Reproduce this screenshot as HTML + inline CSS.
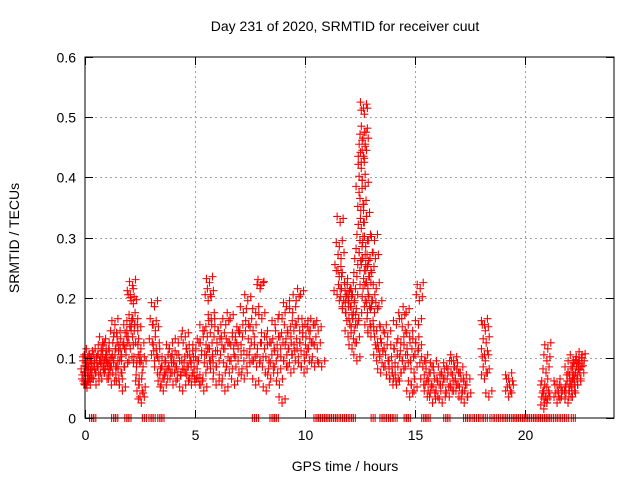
<!DOCTYPE html>
<html><head><meta charset="utf-8"><style>
body{margin:0;background:#fff;}
svg{display:block;font-family:"Liberation Sans",sans-serif;}
</style></head><body>
<svg id="chart" width="640" height="480">
<text x="345" y="31" text-anchor="middle" font-size="14">Day 231 of 2020, SRMTID for receiver cuut</text>
<text x="345" y="471" text-anchor="middle" font-size="14">GPS time / hours</text>
<text transform="translate(19,238) rotate(-90)" text-anchor="middle" font-size="14">SRMTID / TECUs</text>
<g id="grid"></g><g id="marks"></g>
<rect x="85" y="57" width="529" height="361" fill="none" stroke="#000" stroke-width="1"/>
<g id="axes"></g>
</svg>
<script>
const xTicks=[0,5,10,15,20];
const yTicks=[0,0.1,0.2,0.3,0.4,0.5,0.6];
const yTickLabels=["0","0.1","0.2","0.3","0.4","0.5","0.6"];
const groupHours=[0.0,0.05,0.1,0.15,0.2,0.3,0.4,0.5,0.6,0.7,0.8,0.9,1.0,1.1,1.2,1.3,1.4,1.5,1.6,1.7,1.8,1.9,2.0,2.1,2.2,2.3,2.4,2.5,2.6,3.1,3.2,3.3,3.5,3.6,3.8,4.0,4.2,4.4,4.6,4.8,5.0,5.2,5.4,5.6,5.7,5.8,6.0,6.2,6.4,6.6,6.8,7.0,7.2,7.4,7.6,7.8,8.0,8.2,8.4,8.6,8.8,9.0,9.2,9.4,9.6,9.8,10.0,10.2,10.4,10.6,10.8,11.5,11.6,11.7,11.8,12.0,12.1,12.2,12.3,12.4,12.5,12.6,12.7,12.8,12.9,13.0,13.2,13.3,13.4,13.6,13.8,14.0,14.2,14.4,14.6,14.8,15.0,15.2,15.4,15.6,15.8,16.0,16.2,16.4,16.6,16.8,17.0,17.2,17.4,18.2,18.4,19.3,20.9,21.0,21.5,21.7,22.0,22.1,22.2,22.3,22.4,22.5,22.6];
const groupValues=[[0.08,0.06,0.1],[0.07,0.09,0.055],[0.06,0.1,0.085],[0.075,0.065],[0.09,0.11,0.06],[0.1,0.08],[0.07,0.09,0.1],[0.08,0.06],[0.09,0.11],[0.1,0.08,0.12],[0.07,0.13,0.09],[0.1,0.085,0.11],[0.12,0.07,0.095],[0.08,0.1],[0.09,0.06,0.11],[0.08,0.14],[0.16,0.12,0.09],[0.14,0.1,0.07],[0.06,0.12,0.08],[0.11,0.05],[0.13,0.09],[0.12,0.15],[0.14,0.1,0.16],[0.21,0.2,0.17,0.12],[0.225,0.195,0.15],[0.16,0.13,0.09],[0.1,0.15,0.06],[0.07,0.04,0.12],[0.03,0.05,0.09,0.1],[0.13,0.16],[0.19,0.15,0.12,0.1],[0.11,0.08],[0.06,0.09,0.07],[0.05,0.08,0.1],[0.07,0.09,0.12],[0.08,0.06,0.1,0.11],[0.09,0.07,0.13],[0.075,0.1,0.05],[0.08,0.12,0.09,0.14],[0.07,0.1,0.06,0.11],[0.09,0.065,0.12,0.08],[0.1,0.06,0.13],[0.07,0.05,0.11,0.15],[0.09,0.2,0.12,0.14],[0.23,0.21,0.17,0.1],[0.16,0.11,0.08],[0.09,0.13,0.15,0.06],[0.11,0.14,0.07],[0.12,0.16,0.09,0.05],[0.13,0.17,0.1,0.08],[0.12,0.06,0.14],[0.1,0.08,0.15,0.12],[0.14,0.18,0.07],[0.11,0.2,0.16,0.09],[0.13,0.1,0.15],[0.18,0.09,0.12,0.06],[0.22,0.225,0.17,0.1],[0.14,0.08,0.05,0.12],[0.1,0.13,0.07],[0.09,0.12,0.16],[0.11,0.14,0.06,0.08],[0.17,0.13,0.1,0.03],[0.19,0.15,0.12,0.09],[0.14,0.11,0.18,0.08],[0.16,0.2,0.12,0.1],[0.13,0.21,0.09,0.15],[0.11,0.16,0.14,0.08],[0.12,0.1,0.15],[0.13,0.16,0.09],[0.12,0.15],[0.09],[0.21,0.25],[0.29,0.33,0.27,0.24],[0.22,0.19],[0.2,0.23,0.18],[0.21,0.17,0.16,0.14,0.2],[0.22,0.19,0.12],[0.21,0.18,0.15],[0.2,0.16,0.13],[0.24,0.26,0.17,0.1],[0.28,0.3,0.35,0.38],[0.42,0.45,0.47,0.43,0.4,0.36,0.32,0.27,0.22],[0.44,0.48,0.46,0.52,0.51,0.39,0.33,0.25,0.2],[0.29,0.34,0.3,0.26,0.23,0.18],[0.22,0.24,0.19,0.15],[0.27,0.25,0.2,0.16,0.14],[0.3,0.27,0.22,0.18],[0.15,0.13,0.12,0.1],[0.19,0.11,0.08],[0.15,0.12,0.09],[0.14,0.1,0.07],[0.08,0.06,0.12,0.09],[0.16,0.11,0.07,0.06],[0.13,0.17,0.1,0.08],[0.15,0.18,0.12,0.09],[0.14,0.1,0.06,0.04],[0.08,0.11,0.13,0.05],[0.16,0.2,0.22,0.12],[0.09,0.06,0.1],[0.07,0.05,0.08,0.04],[0.06,0.03,0.09],[0.05,0.07,0.04],[0.06,0.08,0.03],[0.07,0.05,0.09],[0.04,0.06,0.08],[0.05,0.09,0.07,0.1],[0.06,0.04,0.08],[0.05,0.07,0.03],[0.06,0.04],[0.16,0.15,0.13,0.11,0.1,0.08,0.07],[0.04],[0.07,0.06,0.05,0.04],[0.02,0.03,0.04,0.05,0.06],[0.08,0.1,0.12,0.04,0.03],[0.06,0.05,0.04,0.03],[0.04,0.05],[0.03,0.05,0.07,0.08,0.04],[0.06,0.09,0.05],[0.07,0.1,0.06,0.04],[0.05,0.08,0.09],[0.07,0.06,0.095],[0.1,0.085,0.07],[0.09,0.105]];
const zeroHours=[0.3,0.4,1.3,1.4,1.9,2.0,2.7,3.0,3.1,3.4,3.5,7.7,7.8,8.5,8.6,8.7,10.5,10.6,10.7,10.8,10.9,11.0,11.1,11.2,11.3,11.4,11.5,11.7,11.8,11.9,12.1,12.2,13.1,13.5,13.6,13.8,13.9,14.1,14.6,14.7,15.4,15.5,15.6,16.4,16.5,17.3,17.4,17.6,17.8,18.0,18.2,18.5,18.7,18.9,19.1,19.2,19.4,19.5,19.6,19.7,19.8,19.9,20.0,20.1,20.2,20.3,20.4,20.5,20.6,20.7,20.8,20.9,21.0,21.1,21.2,21.4,21.5,21.7,21.9,22.2];
const NS="http://www.w3.org/2000/svg";
const X0=85,X1=614,Y0=418,Y1=57,XMAX=24.05,YMAX=0.6;
function xs(h){return X0+h/XMAX*(X1-X0);}
function ys(v){return Y0-v/YMAX*(Y0-Y1);}
const grid=document.getElementById('grid'),axes=document.getElementById('axes'),marks=document.getElementById('marks');
function mk(tag,attrs,parent){const e=document.createElementNS(NS,tag);for(const k in attrs)e.setAttribute(k,attrs[k]);parent.appendChild(e);return e;}
yTicks.forEach((t,i)=>{
  const y=Math.round(ys(t))+0.5;
  if(i>0&&i<yTicks.length-1){const g=mk('line',{x1:X0,x2:X1,y1:y,y2:y,stroke:'#a0a0a0','stroke-dasharray':'2,3'},grid);
  
  }
  const a=mk('path',{d:`M${X0} ${y}h8M${X1} ${y}h-8`,stroke:'#000'},axes);
  
  
  const l=mk('text',{x:X0-9,y:y+5,'text-anchor':'end','font-size':14},axes);l.textContent=yTickLabels[i];
  
  
});
xTicks.forEach(t=>{
  const x=Math.round(xs(t))+0.5;
  if(t>0){const g=mk('line',{x1:x,x2:x,y1:Y0,y2:Y1,stroke:'#a0a0a0','stroke-dasharray':'2,3'},grid);
  
  }
  const a=mk('path',{d:`M${x} ${Y0}v-8M${x} ${Y1}v8`,stroke:'#000'},axes);
  
  
  const l=mk('text',{x:x,y:Y0+22,'text-anchor':'middle','font-size':14},axes);l.textContent=String(t);
  
  
});
function cross(px,py,name){
  const p=mk('path',{d:`M${px-4} ${py}h8M${px} ${py-4}v8`,stroke:'#ff0000','stroke-width':1.1},marks);
  
  
}
const jit=[[-3,-3],[0,3],[3,-1]];
groupHours.forEach((h,gi)=>{
  groupValues[gi].forEach((v,i)=>{
    const bx=xs(h+((i%3)-1)*0.04),by=ys(v);
    jit.forEach((j,k)=>{cross(bx+j[0]*((i+k)%2?1:-1),by+j[1],'srmtid-point');});
  });
});
zeroHours.forEach(h=>{const x=xs(h);[-2,0,2].forEach(d=>cross(x+d,Y0,'zero-point'));});
</script>
</body></html>
